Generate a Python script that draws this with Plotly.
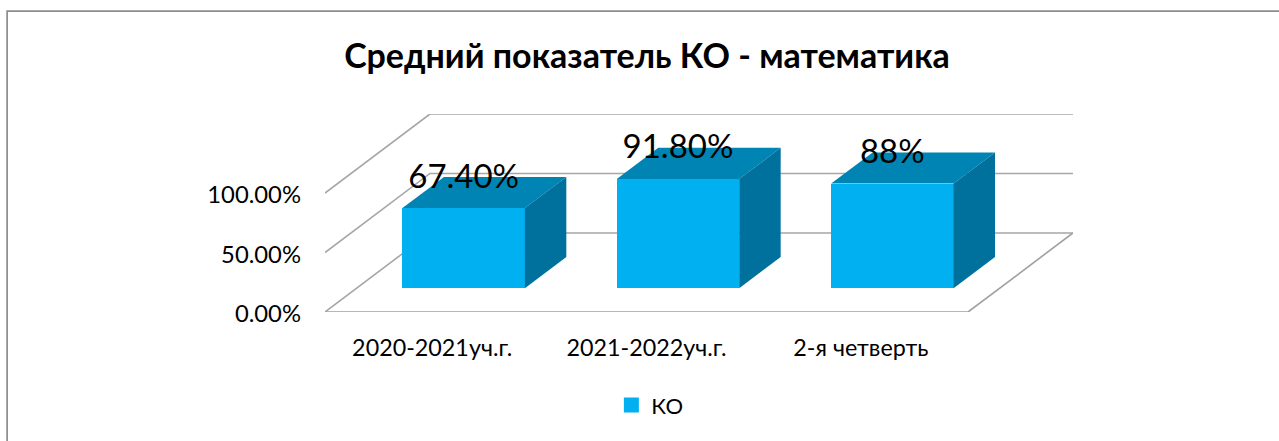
import plotly.graph_objects as go

categories = ["2020-2021уч.г.", "2021-2022уч.г.", "2-я четверть"]
values = [0.674, 0.918, 0.88]
data_labels = ["67.40%", "91.80%", "88%"]
y_ticks = [0, 0.5, 1]
series_name = "КО"
title_text = "Средний показатель КО - математика"

# oblique projection, in axis units
DX, DY = 0.4897, 0.6644      # full floor depth
D0, D1 = 0.30, 0.695         # bar front / back position in the depth
BAR_W = 0.571
LABEL_DROP = 0.02
XMIN, XMAX = -0.5, 2.5
FONT = "Lato"
W, H = 1279, 441
L, R, T, B = 325, 1073.3, 114, 312.5
GRID = "#a6a6a6"
FRONT, TOP, SIDE = "#00B0F0", "#0084B4", "#00709C"

fig = go.Figure()

def line(xs, ys, color=GRID):
    path = "M" + " L".join(f"{x},{y}" for x, y in zip(xs, ys))
    fig.add_shape(type="path", path=path, xref="x", yref="y", layer="below",
                  line=dict(color=color, width=1.6))

for v in y_ticks:
    line([XMIN, XMIN + DX, XMAX + DX], [v, v + DY, v + DY])
line([XMIN, XMAX, XMAX + DX], [0, 0, DY], "#a0a0a0")

xf = [i + D0 * DX for i in range(len(values))]
base = D0 * DY
fig.add_trace(go.Bar(x=xf, y=values, base=base, width=BAR_W, marker=dict(color=FRONT, line_width=0),
                     showlegend=False, hoverinfo="skip"))

d = (D1 - D0)
for x, v in zip(xf, values):
    x0, x1 = x - BAR_W / 2, x + BAR_W / 2
    y0, y1 = base, base + v
    fig.add_trace(go.Scatter(x=[x0, x1, x1 + d * DX, x0 + d * DX, x0],
                             y=[y1, y1, y1 + d * DY, y1 + d * DY, y1],
                             mode="lines", fill="toself", fillcolor=TOP, line=dict(width=0),
                             showlegend=False, hoverinfo="skip"))
    fig.add_trace(go.Scatter(x=[x1, x1 + d * DX, x1 + d * DX, x1, x1],
                             y=[y0, y0 + d * DY, y1 + d * DY, y1, y0],
                             mode="lines", fill="toself", fillcolor=SIDE, line=dict(width=0),
                             showlegend=False, hoverinfo="skip"))

fig.add_trace(go.Scatter(x=xf, y=[base + v + d * DY - LABEL_DROP for v in values], mode="text", text=data_labels,
                         textposition="middle center", textfont=dict(family=FONT, size=33, color="black"),
                         showlegend=False, hoverinfo="skip", cliponaxis=False))

fig.add_trace(go.Scatter(x=[None], y=[None], mode="markers", name=series_name,
                         marker=dict(symbol="square", size=15, color=FRONT)))

fig.add_shape(type="rect", xref="paper", yref="paper",
              x0=(7 - L) / (R - L), x1=(W + 5 - L) / (R - L),
              y0=(B - (H + 5)) / (B - T), y1=(B - 10.8) / (B - T),
              line=dict(color="#8c8c8c", width=1.7), layer="below")

fig.update_layout(
    width=W, height=H, margin=dict(l=L, r=W - R, t=T, b=H - B, pad=0),
    paper_bgcolor="white", plot_bgcolor="rgba(0,0,0,0)",
    font=dict(family=FONT, color="black"),
    title=dict(text=f"<b>{title_text}</b>", x=647 / W, xanchor="center", y=1 - 56 / H, yanchor="middle",
               font=dict(family=FONT, size=34, color="black")),
    xaxis=dict(range=[XMIN, XMAX + DX], tickvals=list(range(len(categories))), ticktext=categories,
               showgrid=False, zeroline=False, showline=False, ticks="", ticklabelstandoff=20,
               tickfont=dict(size=23.3), tickangle=0),
    yaxis=dict(range=[0, 1 + DY], tickvals=y_ticks, tickformat=".2%", showgrid=False, zeroline=False,
               showline=False, ticks="", ticklabelstandoff=23, ticklabelshift=2, tickfont=dict(size=23.8)),
    showlegend=True,
    legend=dict(x=(650 - L) / (R - L), xanchor="center", y=(B - 406) / (B - T), yanchor="middle",
                orientation="h", font=dict(size=22), bgcolor="rgba(0,0,0,0)"),
    bargap=0,
)
fig.write_html("out.html", post_script="document.body.style.margin='0';", config=dict(displayModeBar=False))
